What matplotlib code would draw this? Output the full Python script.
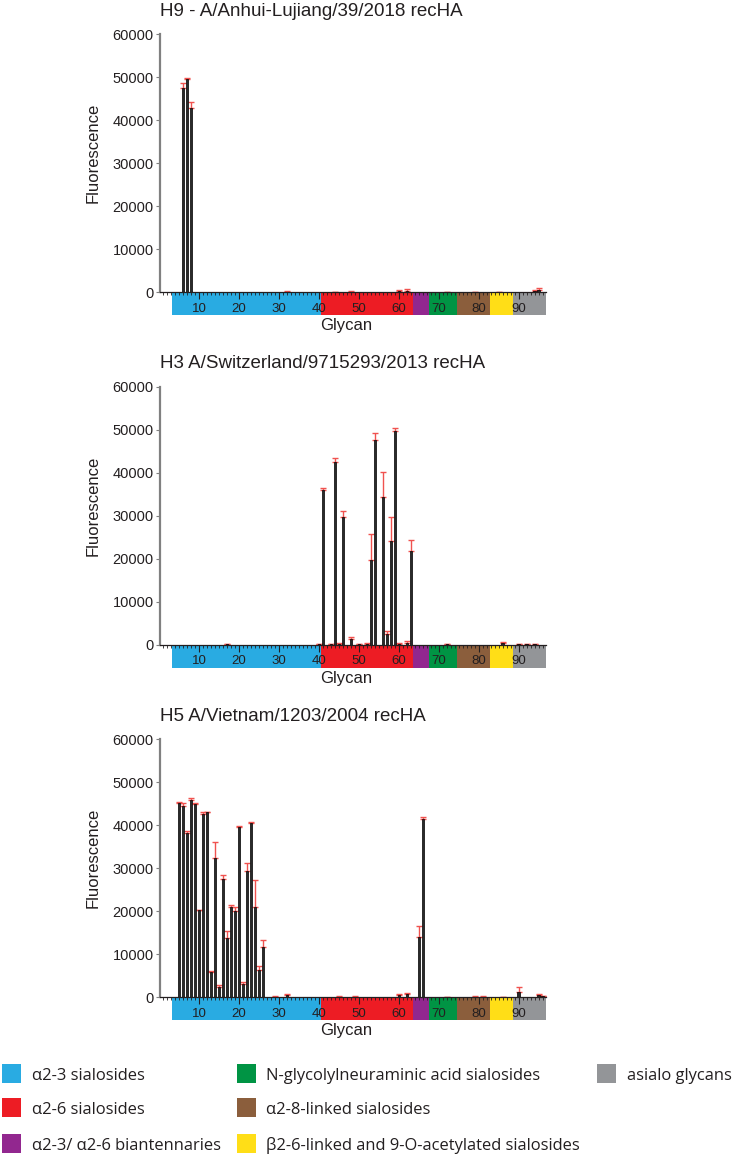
import numpy as np
import matplotlib
matplotlib.use("Agg")
import matplotlib.pyplot as plt
from matplotlib.patches import Rectangle
import matplotlib.transforms as mtransforms

plt.rcParams['font.family'] = ['Liberation Sans', 'DejaVu Sans']

# glycan classes along the x axis (edges in glycan number units)
band_edges = [3.25, 40.5, 63.6, 67.6, 74.7, 82.9, 88.7, 96.8]
band_colors = ['#29abe2', '#ed1c24', '#92278f', '#009444', '#8b5e3c', '#ffde17', '#939598']

# legend entries (column by column)
legend_labels = ['α2-3 sialosides', 'α2-6 sialosides', 'α2-3/ α2-6 biantennaries',
                 'N-glycolylneuraminic acid sialosides', 'α2-8-linked sialosides',
                 'β2-6-linked and 9-O-acetylated sialosides', 'asialo glycans']
legend_colors = ['#29abe2', '#ed1c24', '#92278f', '#009444', '#8b5e3c', '#ffde17', '#939598']

titles = ['H9 - A/Anhui-Lujiang/39/2018 recHA',
          'H3 A/Switzerland/9715293/2013 recHA',
          'H5 A/Vietnam/1203/2004 recHA']

# H9 panel
h9_ids = [6, 7, 8, 32, 44, 48, 60, 62, 72, 79, 85, 94, 95]
h9_vals = [47600, 49600, 42800, 150, 50, 80, 250, 350, 50, 60, 80, 200, 500]
h9_err = [1000, 200, 1400, 250, 100, 120, 300, 400, 100, 100, 100, 300, 400]

# H3 panel
h3_ids = [17, 40, 41, 43, 44, 45, 46, 48, 50, 52, 53, 54, 56, 57, 58, 59, 60, 62, 63, 72, 86, 90, 92, 94]
h3_vals = [80, 80, 35900, 50, 42600, 200, 29700, 1300, 100, 250, 19800, 47500, 34400, 2550, 24200,
           49800, 150, 500, 21900, 60, 300, 60, 60, 60]
h3_err = [100, 100, 550, 100, 850, 150, 1500, 400, 100, 250, 6000, 1700, 5800, 700, 5600,
          600, 200, 300, 2500, 100, 300, 100, 100, 100]

# H5 panel
h5_ids = [5, 6, 7, 8, 9, 10, 11, 12, 13, 14, 15, 16, 17, 18, 19, 20, 21, 22, 23, 24, 25, 26,
          29, 32, 45, 49, 60, 62, 65, 66, 72, 79, 81, 86, 90, 95, 96]
h5_vals = [45100, 44600, 38200, 45800, 45000, 20200, 42700, 43000, 6000, 32500, 2500, 27600,
           13900, 21100, 20100, 39600, 3100, 29400, 40500, 21100, 6300, 11600,
           150, 550, 150, 100, 500, 700, 14000, 41500, 60, 100, 150, 80, 1200, 450, 200]
h5_err = [300, 700, 400, 500, 300, 200, 400, 200, 200, 3600, 400, 800,
          1500, 300, 900, 200, 550, 1800, 250, 6100, 1000, 1700,
          200, 250, 200, 100, 250, 300, 2500, 500, 100, 100, 100, 100, 1200, 300, 200]

panels = [(h9_ids, h9_vals, h9_err), (h3_ids, h3_vals, h3_err), (h5_ids, h5_vals, h5_err)]

fig = plt.figure(figsize=(7.34, 11.54), dpi=100)
W, H = 734, 1154
ax_left, ax_right = 160, 545.7
ax_tops = [34.3, 386.7, 739.3]
ax_h = 258.0
band_h = 23.0

for i, (ids, vals, err) in enumerate(panels):
    top = ax_tops[i]
    ax = fig.add_axes([ax_left / W, 1 - (top + ax_h) / H, (ax_right - ax_left) / W, ax_h / H])

    ax.bar(ids, vals, width=0.55, color='#2a2a2a', edgecolor='black', linewidth=0.5, zorder=3)
    ax.errorbar(ids, vals, yerr=[np.zeros(len(err)), err], fmt='none', ecolor='#f0524f',
                elinewidth=1.0, capsize=2.2, capthick=1.0, zorder=2)

    ax.set_xlim(0.2, 96.8)
    ax.set_ylim(0, 60000)

    # coloured class band under the axis
    trans = mtransforms.blended_transform_factory(ax.transData, ax.transAxes)
    for k, c in enumerate(band_colors):
        ax.add_patch(Rectangle((band_edges[k], -band_h / ax_h), band_edges[k + 1] - band_edges[k],
                               band_h / ax_h, transform=trans, facecolor=c, edgecolor='none',
                               clip_on=False, zorder=0.5))

    ax.spines['top'].set_visible(False)
    ax.spines['right'].set_visible(False)
    ax.spines['left'].set_color('#808080')
    ax.spines['left'].set_linewidth(1.6)
    ax.spines['bottom'].set_color('#231f20')
    ax.spines['bottom'].set_linewidth(0.9)

    ax.set_xticks(np.arange(10, 91, 10))
    ax.set_xticks(np.arange(1, 97, 1), minor=True)
    ax.set_yticks(np.arange(0, 60001, 10000))
    ax.tick_params(axis='x', which='major', length=5, width=0.8, pad=2.5, labelsize=9.5,
                   colors='#231f20')
    ax.tick_params(axis='x', which='minor', length=2.2, width=0.6, color='#231f20')
    ax.tick_params(axis='y', which='major', length=3, width=0.8, pad=1.5, labelsize=10.5,
                   color='#808080', labelcolor='#231f20')

    ax.set_title(titles[i], loc='left', fontsize=13.5, pad=13.5, color='#231f20')
    ax.set_ylabel('Fluorescence', fontsize=12, color='#231f20')
    ax.yaxis.set_label_coords(-0.155, 0.54)
    ax.set_xlabel('Glycan', fontsize=12, color='#231f20', va='top')
    ax.xaxis.set_label_coords(0.484, -0.10)

# legend below the panels
col_sq_x = [2, 237, 597]
col_txt_x = [32, 266, 627]
row_base = [1079.5, 1113.5, 1149.5]
sq = 18.5
positions = [(0, 0), (0, 1), (0, 2), (1, 0), (1, 1), (1, 2), (2, 0)]
for (c, r), lab, colr in zip(positions, legend_labels, legend_colors):
    y_top = row_base[r] - 15.5
    fig.patches.append(Rectangle((col_sq_x[c] / W, 1 - (y_top + sq) / H), sq / W, sq / H,
                                 transform=fig.transFigure, facecolor=colr, edgecolor='none'))
    fig.text(col_txt_x[c] / W, 1 - row_base[r] / H, lab, fontsize=11.9, va='baseline', ha='left',
             color='#231f20', family=['Open Sans', 'DejaVu Sans'])

fig.savefig('out.png', dpi=100)
